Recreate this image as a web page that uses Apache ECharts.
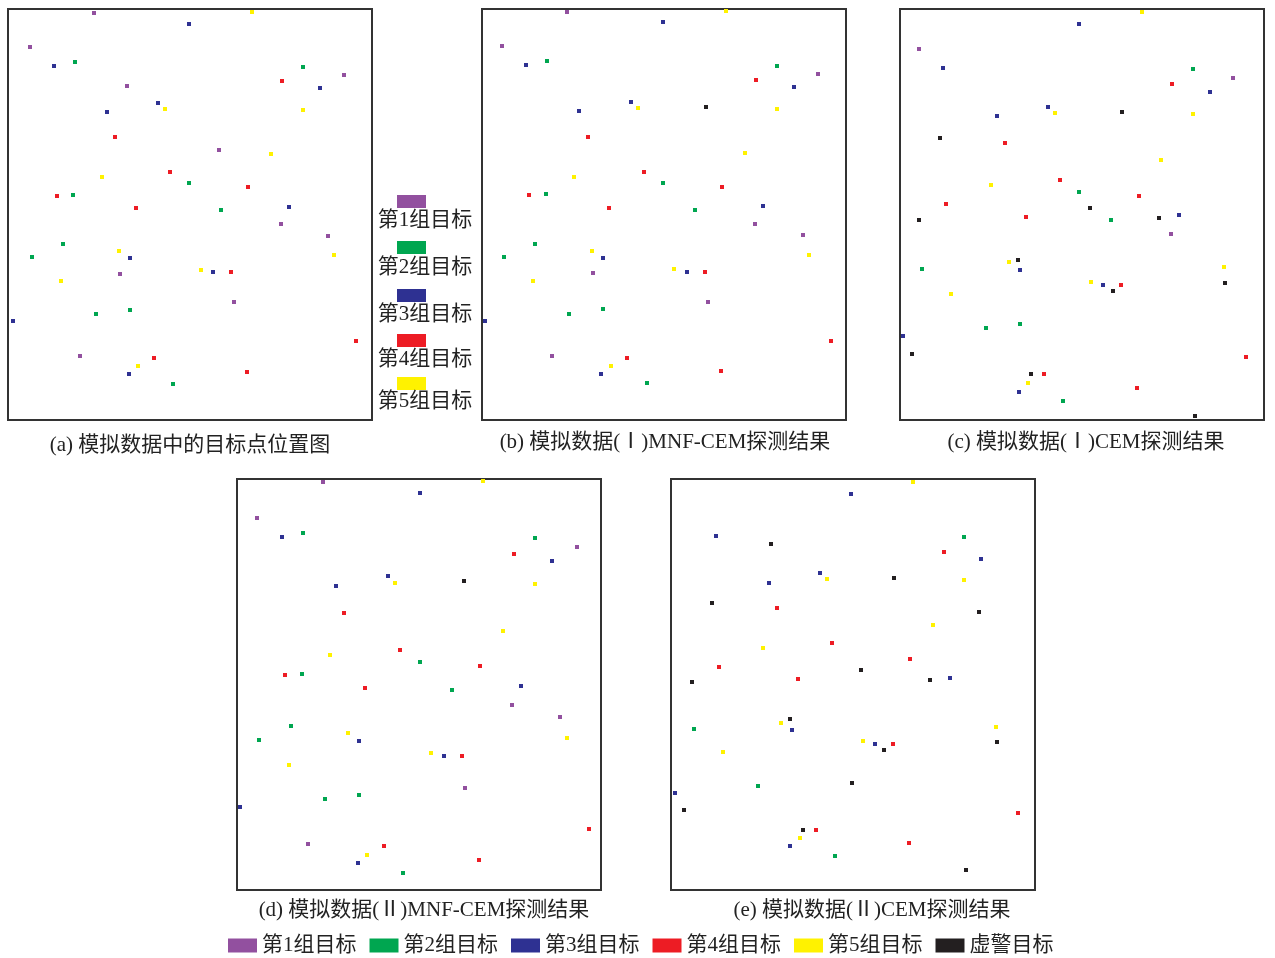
<!DOCTYPE html>
<html>
<head>
<meta charset="utf-8">
<script src="https://cdn.jsdelivr.net/npm/echarts@6/dist/echarts.min.js"></script>
<style>
  html, body { margin: 0; padding: 0; background: #fff; }
  #chart { width: 1275px; height: 958px; }
</style>
</head>
<body>
<div id="chart"></div>
<script>
// group names and colours
const groupNames = ['第1组目标', '第2组目标', '第3组目标', '第4组目标', '第5组目标', '虚警目标']
const groupColors = ['#92509f', '#00a650', '#2e3192', '#ed1c24', '#fff200', '#231f20']

const captions = [
  '(a) 模拟数据中的目标点位置图',
  '(b) 模拟数据(Ⅰ)MNF-CEM探测结果',
  '(c) 模拟数据(Ⅰ)CEM探测结果',
  '(d) 模拟数据(Ⅱ)MNF-CEM探测结果',
  '(e) 模拟数据(Ⅱ)CEM探测结果'
]

// point positions in image pixels (x right, y down), per panel and group
// (a) true target positions
const a1 = [[86, 4], [22, 38], [119, 77], [336, 66], [211, 141], [273, 215], [320, 227], [112, 265], [226, 293], [72, 347]]
const a2 = [[67, 53], [295, 58], [181, 174], [65, 186], [213, 201], [55, 235], [24, 248], [88, 305], [122, 301], [165, 375]]
const a3 = [[181, 15], [46, 57], [99, 103], [150, 94], [312, 79], [281, 198], [122, 249], [205, 263], [5, 312], [121, 365]]
const a4 = [[274, 72], [107, 128], [162, 163], [240, 178], [49, 187], [128, 199], [223, 263], [348, 332], [146, 349], [239, 363]]
const a5 = [[244, 3], [157, 100], [295, 101], [263, 145], [94, 168], [326, 246], [111, 242], [53, 272], [193, 261], [130, 357]]
const a6 = []

// (b) data I, MNF-CEM
const b1 = [[85, 3], [20, 37], [336, 65], [273, 215], [321, 226], [111, 264], [226, 293], [70, 347]]
const b2 = [[65, 52], [295, 57], [181, 174], [64, 185], [213, 201], [53, 235], [22, 248], [87, 305], [121, 300], [165, 374]]
const b3 = [[181, 13], [44, 56], [149, 93], [97, 102], [312, 78], [281, 197], [121, 249], [205, 263], [3, 312], [119, 365]]
const b4 = [[274, 71], [106, 128], [162, 163], [240, 178], [47, 186], [127, 199], [223, 263], [349, 332], [145, 349], [239, 362]]
const b5 = [[244, 2], [156, 99], [295, 100], [263, 144], [92, 168], [327, 246], [110, 242], [51, 272], [192, 260], [129, 357]]
const b6 = [[224, 98]]

// (c) data I, CEM
const c1 = [[19, 40], [333, 69], [271, 225]]
const c2 = [[293, 60], [179, 183], [211, 211], [22, 260], [86, 319], [120, 315], [163, 392]]
const c3 = [[179, 15], [43, 59], [310, 83], [148, 98], [97, 107], [279, 206], [120, 261], [203, 276], [3, 327], [119, 383]]
const c4 = [[272, 75], [105, 134], [160, 171], [239, 187], [46, 195], [126, 208], [221, 276], [144, 365], [237, 379], [346, 348]]
const c5 = [[242, 3], [155, 104], [293, 105], [261, 151], [91, 176], [109, 253], [324, 258], [51, 285], [191, 273], [128, 374]]
const c6 = [[222, 103], [40, 129], [190, 199], [19, 211], [259, 209], [118, 251], [325, 274], [213, 282], [12, 345], [131, 365], [295, 407]]

// (d) data II, MNF-CEM
const d1 = [[86, 3], [20, 39], [340, 68], [275, 226], [323, 238], [228, 309], [71, 365]]
const d2 = [[66, 54], [298, 59], [183, 183], [65, 195], [215, 211], [54, 247], [22, 261], [88, 320], [122, 316], [166, 394]]
const d3 = [[183, 14], [45, 58], [315, 82], [151, 97], [99, 107], [284, 207], [122, 262], [207, 277], [3, 328], [121, 384]]
const d4 = [[277, 75], [107, 134], [163, 171], [243, 187], [48, 196], [128, 209], [225, 277], [147, 367], [242, 381], [352, 350]]
const d5 = [[246, 2], [158, 104], [298, 105], [266, 152], [93, 176], [330, 259], [111, 254], [52, 286], [194, 274], [130, 376]]
const d6 = [[227, 102]]

// (e) data II, CEM
const e1 = []
const e2 = [[293, 58], [23, 250], [87, 307], [164, 377]]
const e3 = [[180, 15], [45, 57], [310, 80], [149, 94], [98, 104], [279, 199], [121, 251], [204, 265], [4, 314], [119, 367]]
const e4 = [[273, 73], [106, 129], [161, 164], [239, 180], [48, 188], [127, 200], [222, 265], [145, 351], [238, 364], [347, 334]]
const e5 = [[242, 3], [156, 100], [293, 101], [262, 146], [92, 169], [110, 244], [325, 248], [52, 273], [192, 262], [129, 359]]
const e6 = [[100, 65], [223, 99], [41, 124], [308, 133], [190, 191], [259, 201], [21, 203], [119, 240], [326, 263], [213, 271], [181, 304], [13, 331], [132, 351], [295, 391]]

const panelData = [
  [a1, a2, a3, a4, a5, a6],
  [b1, b2, b3, b4, b5, b6],
  [c1, c2, c3, c4, c5, c6],
  [d1, d2, d3, d4, d5, d6],
  [e1, e2, e3, e4, e5, e6]
]

// panel boxes on the page
const panelBoxes = [
  { left: 8, top: 9 },
  { left: 482, top: 9 },
  { left: 900, top: 9 },
  { left: 237, top: 479 },
  { left: 671, top: 479 }
]
const panelW = 364
const panelH = 411

const fontFamily = '"Liberation Serif", "Noto Sans CJK SC", serif'

const chart = echarts.init(document.getElementById('chart'), null, { renderer: 'canvas' })

const grid = panelBoxes.map(b => ({
  left: b.left,
  top: b.top,
  width: panelW,
  height: panelH,
  show: true,
  backgroundColor: '#fff',
  borderColor: '#333',
  borderWidth: 2
}))

const xAxis = panelBoxes.map((b, i) => ({
  gridIndex: i, type: 'value', min: 0, max: panelW, show: false
}))
const yAxis = panelBoxes.map((b, i) => ({
  gridIndex: i, type: 'value', min: 0, max: panelH, inverse: true, show: false
}))

const series = []
panelData.forEach((groups, i) => {
  groups.forEach((pts, g) => {
    series.push({
      name: groupNames[g],
      type: 'scatter',
      xAxisIndex: i,
      yAxisIndex: i,
      symbol: 'rect',
      symbolSize: 4,
      data: pts,
      itemStyle: { color: groupColors[g], opacity: 1 },
      emphasis: { disabled: true },
      silent: true
    })
  })
})

// captions under each panel
const captionCenters = [[190, 445], [665, 442], [1086, 442], [424, 910], [872, 910]]
const graphics = captions.map((t, i) => ({
  type: 'text',
  x: captionCenters[i][0],
  y: captionCenters[i][1],
  style: {
    text: t,
    fill: '#222',
    font: '21px ' + fontFamily,
    textAlign: 'center',
    textVerticalAlign: 'middle'
  }
}))

// legend between panel (a) and (b): swatch above label
const midRectY = [195, 241, 289, 334, 377]
const midTextY = [220, 267, 314, 359, 401]
for (let g = 0; g < 5; g++) {
  graphics.push({
    type: 'rect',
    shape: { x: 397, y: midRectY[g], width: 29, height: 13 },
    style: { fill: groupColors[g] }
  })
  graphics.push({
    type: 'text',
    x: 425,
    y: midTextY[g],
    style: {
      text: groupNames[g],
      fill: '#222',
      font: '21px ' + fontFamily,
      textAlign: 'center',
      textVerticalAlign: 'middle'
    }
  })
}

chart.setOption({
  backgroundColor: '#fff',
  animation: false,
  grid,
  xAxis,
  yAxis,
  legend: {
    data: groupNames.map(n => ({ name: n, icon: 'rect' })),
    left: 228,
    top: 935,
    padding: 0,
    itemWidth: 29,
    itemHeight: 14,
    itemGap: 13,
    selectedMode: false,
    itemStyle: { opacity: 1 },
    textStyle: { fontSize: 21, color: '#222', fontFamily }
  },
  graphic: graphics,
  series
})

window.addEventListener('resize', () => chart.resize())
</script>
</body>
</html>
